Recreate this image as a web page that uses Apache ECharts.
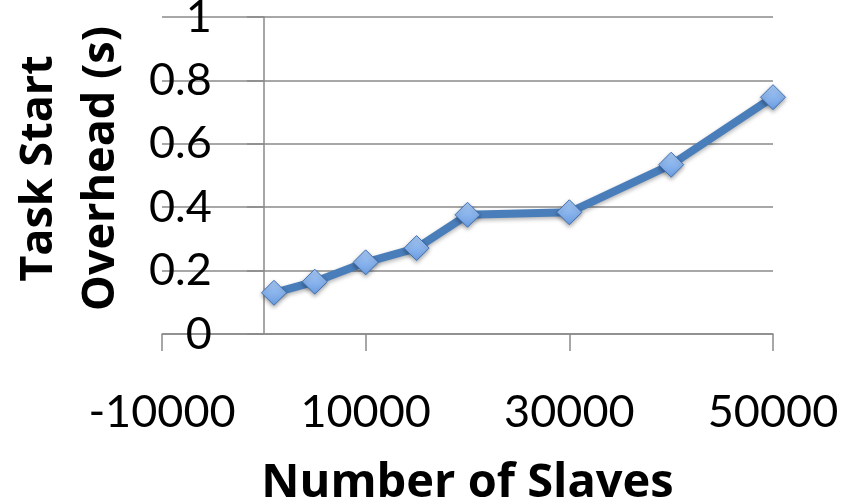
<!DOCTYPE html>
<html>
<head>
<meta charset="utf-8">
<script src="https://cdn.jsdelivr.net/npm/echarts@6/dist/echarts.min.js"></script>
<style>
  html, body { margin: 0; padding: 0; background: #fff; }
  #chart { width: 847px; height: 504px; }
</style>
</head>
<body>
<div id="chart"></div>
<script>
// Task start overhead measured against cluster size
const slaves = [1000, 5000, 10000, 15000, 20000, 30000, 40000, 50000];
const overhead = [0.13, 0.165, 0.226, 0.271, 0.376, 0.384, 0.534, 0.747];
const xTickValues = [-10000, 10000, 30000, 50000];
const yTicks = [0, 0.2, 0.4, 0.6, 0.8, 1];

const axisGray = '#8a8a8a';
const font = 'Lato, "Open Sans", sans-serif';
const titleFont = '"Open Sans", Lato, sans-serif';

const gridLeft = 162;
const gridRight = 74;
const chartWidth = 847;
// horizontal pixel position of x = 0, where the value axis stands
const xMin = -10000, xMax = 50000;
const zeroOffset = (0 - xMin) / (xMax - xMin) * (chartWidth - gridLeft - gridRight);

const chart = echarts.init(document.getElementById('chart'), null, { renderer: 'canvas' });

chart.setOption({
  animation: false,
  backgroundColor: '#ffffff',
  grid: { left: gridLeft, right: gridRight, top: 17, bottom: 170, containLabel: false, outerBoundsMode: 'none' },
  xAxis: {
    type: 'value',
    min: xMin,
    max: xMax,
    interval: 10000,
    name: 'Number of Slaves',
    nameLocation: 'middle',
    nameGap: 126,
    nameMoveOverlap: false,
    nameTextStyle: { fontFamily: titleFont, fontWeight: 'bold', fontSize: 47, color: '#000' },
    axisLine: { show: true, onZero: true, lineStyle: { color: axisGray, width: 1.5 } },
    axisTick: { show: true, inside: false, length: 17, customValues: xTickValues,
                lineStyle: { color: axisGray, width: 1.5 } },
    axisLabel: { show: true, margin: 56, customValues: xTickValues,
                 fontFamily: font, fontSize: 45, color: '#000',
                 formatter: v => String(v) },
    splitLine: { show: false }
  },
  yAxis: {
    type: 'value',
    min: yTicks[0],
    max: yTicks[yTicks.length - 1],
    interval: 0.2,
    offset: -zeroOffset,
    name: 'Task Start\nOverhead (s)',
    nameLocation: 'middle',
    nameGap: 132,
    nameRotate: 90,
    nameMoveOverlap: false,
    nameTextStyle: { fontFamily: titleFont, fontWeight: 'bold', fontSize: 45, color: '#000',
                     lineHeight: 62, padding: [0, 0, 0, 14] },
    axisLine: { show: true, onZero: false, lineStyle: { color: axisGray, width: 1.5 } },
    axisTick: { show: true, inside: false, length: 17, lineStyle: { color: axisGray, width: 1.5 } },
    axisLabel: { margin: 52, fontFamily: font, fontSize: 45, color: '#000',
                 formatter: v => String(Math.round(v * 10) / 10) },
    splitLine: { show: true, lineStyle: { color: axisGray, width: 1.5 } }
  },
  series: [{
    type: 'line',
    data: slaves.map((s, i) => [s, overhead[i]]),
    symbol: 'diamond',
    symbolSize: 25,
    showSymbol: true,
    lineStyle: {
      color: '#4a7ebb', width: 8,
      shadowColor: 'rgba(0,0,0,0.3)', shadowBlur: 4, shadowOffsetY: 2
    },
    itemStyle: {
      color: new echarts.graphic.LinearGradient(0, 0, 0, 1, [
        { offset: 0, color: '#a9cbf6' },
        { offset: 1, color: '#6b9de3' }
      ]),
      borderColor: '#3f72b5',
      borderWidth: 1,
      shadowColor: 'rgba(0,0,0,0.35)', shadowBlur: 4, shadowOffsetY: 2
    },
    emphasis: { disabled: true }
  }]
});
</script>
</body>
</html>
